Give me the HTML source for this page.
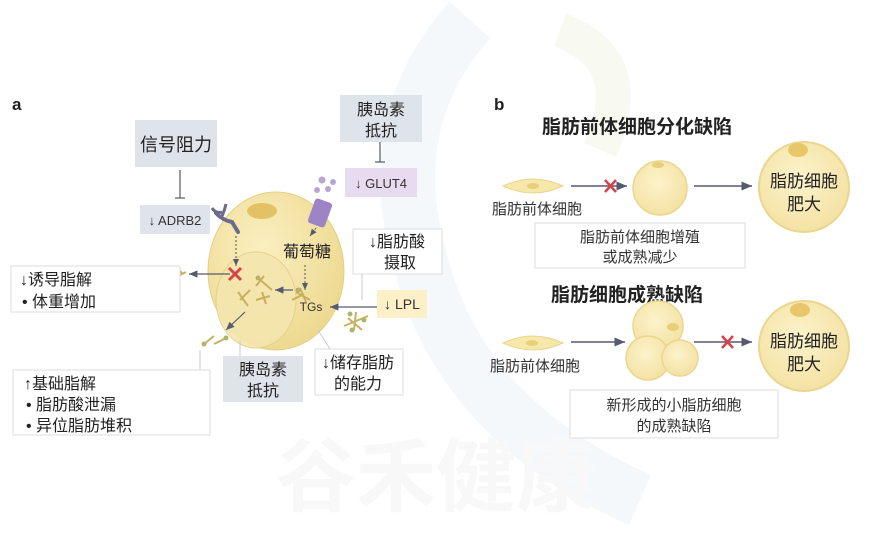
<!DOCTYPE html>
<html><head><meta charset="utf-8"><style>
html,body{margin:0;padding:0;background:#fff;}
svg{display:block;font-family:"Liberation Sans","Noto Sans CJK SC",sans-serif;}
</style></head><body>
<svg width="872" height="540" viewBox="0 0 872 540" xmlns="http://www.w3.org/2000/svg">
<defs>
<radialGradient id="cg" cx="0.4" cy="0.35" r="0.7">
<stop offset="0" stop-color="#fbefc0"/><stop offset="1" stop-color="#ecd88e"/></radialGradient>
<radialGradient id="cg2" cx="0.45" cy="0.4" r="0.65">
<stop offset="0" stop-color="#fdf3cc"/><stop offset="1" stop-color="#f3e1a0"/></radialGradient>
<marker id="ar" markerWidth="8" markerHeight="8" refX="7" refY="4" orient="auto"><path d="M0,1 L7,4 L0,7 z" fill="#555a6e"/></marker>
</defs>
<rect width="872" height="540" fill="#fff"/>
<!-- faint watermark -->
<path d="M470,20 Q380,120 420,260 Q460,420 640,500" fill="none" stroke="#f5f8fb" stroke-width="55"/>
<path d="M560,30 Q640,60 600,150" fill="none" stroke="#f8faf2" stroke-width="35"/>
<text x="436" y="505" font-size="80" fill="#f8f8f8" text-anchor="middle" font-weight="bold">谷禾健康</text>

<!-- Panel a -->
<text x="12" y="110" font-size="17" font-weight="bold" fill="#222">a</text>
<rect x="135" y="120" width="82" height="47" fill="#dfe3ea"/>
<text x="176" y="151" font-size="18" text-anchor="middle" fill="#222">信号阻力</text>
<line x1="180" y1="170" x2="180" y2="198" stroke="#666" stroke-width="1.3"/>
<line x1="175" y1="198" x2="185" y2="198" stroke="#666" stroke-width="1.3"/>
<rect x="140" y="205" width="70" height="29" fill="#dfe3ea"/>
<text x="175" y="225" font-size="13" text-anchor="middle" fill="#333">↓ ADRB2</text>

<rect x="340" y="95" width="82" height="47" fill="#dfe3ea"/>
<text x="381" y="115" font-size="16" text-anchor="middle" fill="#222">胰岛素</text>
<text x="381" y="136" font-size="16" text-anchor="middle" fill="#222">抵抗</text>
<line x1="380" y1="142" x2="380" y2="162" stroke="#666" stroke-width="1.3"/>
<line x1="375" y1="162" x2="385" y2="162" stroke="#666" stroke-width="1.3"/>
<rect x="345" y="168" width="72" height="29" fill="#e7dcef"/>
<text x="381" y="188" font-size="13" text-anchor="middle" fill="#333">↓ GLUT4</text>

<!-- cell -->
<ellipse cx="276" cy="271" rx="68" ry="79" fill="url(#cg)" stroke="#e2cf86"/>
<ellipse cx="256" cy="300" rx="40" ry="48" fill="#f4e6ae" stroke="#e3d088" opacity="0.9"/>
<ellipse cx="262" cy="211" rx="15" ry="8" fill="#e2c264"/>
<path d="M216,213 Q222,220 232,222 L238,232" stroke="#6d6a8a" stroke-width="4" fill="none" stroke-linecap="round"/>
<path d="M212,208 Q216,214 222,212 M226,204 Q224,212 222,216" stroke="#6d6a8a" stroke-width="3" fill="none"/>
<rect x="311" y="200" width="18" height="26" rx="3" fill="#9d84c4" transform="rotate(20 320 213)"/>
<circle cx="322" cy="180" r="3.5" fill="#b7a6d4"/><circle cx="333" cy="182" r="3" fill="#b7a6d4"/><circle cx="328" cy="189" r="3" fill="#b7a6d4"/><circle cx="317" cy="190" r="3" fill="#b7a6d4"/>
<line x1="316" y1="228" x2="310" y2="236" stroke="#555" stroke-dasharray="2,2" marker-end="url(#ar)"/>
<line x1="236" y1="236" x2="236" y2="266" stroke="#555" stroke-dasharray="2,2" marker-end="url(#ar)"/>
<text x="307" y="257" font-size="16" text-anchor="middle" fill="#222">葡萄糖</text>
<line x1="305" y1="265" x2="305" y2="290" stroke="#555" stroke-dasharray="2,2" marker-end="url(#ar)"/>
<text x="311" y="311" font-size="12" text-anchor="middle" fill="#333">TGs</text>
<g stroke="#c8b060" stroke-width="2" fill="none">
<path d="M296,292 L310,300 M300,288 L306,302 M292,300 L304,294"/>
<path d="M258,278 L272,290 M256,286 L264,276"/>
<path d="M240,300 L250,290 M238,292 L248,306 M256,300 L270,296 M262,292 L266,304"/>
<path d="M348,318 L362,330 M356,312 L354,330 M344,326 L368,316"/>
<path d="M204,344 L214,336 M214,344 L226,338"/>
<path d="M178,276 L186,272"/>
</g>
<circle cx="298" cy="290" r="2.5" fill="#b9b06b"/><circle cx="258" cy="278" r="2.5" fill="#b9b06b"/><circle cx="350" cy="314" r="2.5" fill="#a8b86b"/><circle cx="364" cy="320" r="2.5" fill="#a8b86b"/><circle cx="352" cy="330" r="2.5" fill="#a8b86b"/><circle cx="204" cy="344" r="2.5" fill="#b9b06b"/><circle cx="226" cy="338" r="2.5" fill="#a8b86b"/><circle cx="180" cy="273" r="2.5" fill="#b9b06b"/>
<line x1="230" y1="274" x2="189" y2="274" stroke="#555a6e" stroke-width="1.2" marker-end="url(#ar)"/>
<line x1="293" y1="290" x2="275" y2="290" stroke="#555a6e" stroke-width="1.2" marker-end="url(#ar)"/>
<line x1="245" y1="312" x2="226" y2="330" stroke="#555a6e" stroke-width="1.2" marker-end="url(#ar)"/>
<line x1="378" y1="307" x2="330" y2="307" stroke="#555a6e" stroke-width="1.2" marker-end="url(#ar)"/>
<path d="M229,268 L241,280 M241,268 L229,280" stroke="#d8424a" stroke-width="3"/>

<rect x="353" y="229" width="89" height="45" fill="#fff" stroke="#ddd"/>
<text x="397" y="247" font-size="16" text-anchor="middle" fill="#222">↓脂肪酸</text>
<text x="400" y="268" font-size="16" text-anchor="middle" fill="#222">摄取</text>
<line x1="362" y1="274" x2="362" y2="300" stroke="#ccc"/>
<rect x="377" y="290" width="50" height="28" fill="#fbf0c8"/>
<text x="402" y="309" font-size="14" text-anchor="middle" fill="#333">↓ LPL</text>

<rect x="11" y="266" width="169" height="46" fill="#fff" stroke="#ddd"/>
<text x="20" y="285" font-size="16" fill="#222">↓诱导脂解</text>
<text x="22" y="307" font-size="16" fill="#222">• 体重增加</text>

<rect x="223" y="356" width="80" height="46" fill="#dfe3ea"/>
<text x="263" y="375" font-size="16" text-anchor="middle" fill="#222">胰岛素</text>
<text x="263" y="396" font-size="16" text-anchor="middle" fill="#222">抵抗</text>
<line x1="240" y1="340" x2="240" y2="356" stroke="#ccc"/>

<rect x="315" y="349" width="88" height="46" fill="#fff" stroke="#ddd"/>
<text x="358" y="368" font-size="16" text-anchor="middle" fill="#222">↓储存脂肪</text>
<text x="358" y="389" font-size="16" text-anchor="middle" fill="#222">的能力</text>
<line x1="318" y1="330" x2="330" y2="349" stroke="#ccc"/>

<rect x="13" y="370" width="197" height="65" fill="#fff" stroke="#ddd"/>
<text x="24" y="389" font-size="16" fill="#222">↑基础脂解</text>
<text x="26" y="410" font-size="16" fill="#222">• 脂肪酸泄漏</text>
<text x="26" y="431" font-size="16" fill="#222">• 异位脂肪堆积</text>
<line x1="200" y1="350" x2="200" y2="370" stroke="#ccc"/>

<!-- Panel b -->
<text x="494" y="110" font-size="17" font-weight="bold" fill="#222">b</text>
<text x="637" y="133" font-size="19" font-weight="bold" text-anchor="middle" fill="#222">脂肪前体细胞分化缺陷</text>
<path d="M503,186 Q533,172 563,186 Q533,200 503,186 z" fill="#f6e7aa" stroke="#e8d590"/>
<ellipse cx="533" cy="186" rx="6" ry="3" fill="#e8cf7c"/>
<text x="537" y="214" font-size="15" text-anchor="middle" fill="#333">脂肪前体细胞</text>
<line x1="571" y1="186" x2="627" y2="186" stroke="#555a6e" stroke-width="1.5" marker-end="url(#ar)"/>
<path d="M605,180 L616,192 M616,180 L605,192" stroke="#d8424a" stroke-width="2.5"/>
<circle cx="660" cy="188" r="27" fill="url(#cg2)" stroke="#ead68e" stroke-width="1.5"/>
<ellipse cx="658" cy="165" rx="6" ry="3" fill="#e8cf7c"/>
<line x1="694" y1="186" x2="752" y2="186" stroke="#555a6e" stroke-width="1.5" marker-end="url(#ar)"/>
<circle cx="804" cy="187" r="45" fill="url(#cg2)" stroke="#ead68e" stroke-width="2"/>
<ellipse cx="798" cy="150" rx="10" ry="7" fill="#e8c66a"/>
<text x="804" y="187" font-size="17" text-anchor="middle" fill="#222">脂肪细胞</text>
<text x="804" y="210" font-size="17" text-anchor="middle" fill="#222">肥大</text>
<rect x="535" y="223" width="210" height="45" fill="#fff" stroke="#ddd"/>
<text x="640" y="242" font-size="15" text-anchor="middle" fill="#333">脂肪前体细胞增殖</text>
<text x="640" y="262" font-size="15" text-anchor="middle" fill="#333">或成熟减少</text>

<text x="627" y="301" font-size="19" font-weight="bold" text-anchor="middle" fill="#222">脂肪细胞成熟缺陷</text>
<path d="M503,343 Q533,329 563,343 Q533,357 503,343 z" fill="#f6e7aa" stroke="#e8d590"/>
<ellipse cx="532" cy="343" rx="6" ry="3" fill="#e8cf7c"/>
<text x="535" y="371" font-size="15" text-anchor="middle" fill="#333">脂肪前体细胞</text>
<line x1="571" y1="342" x2="625" y2="342" stroke="#555a6e" stroke-width="1.5" marker-end="url(#ar)"/>
<circle cx="658" cy="326" r="25" fill="url(#cg2)" stroke="#ead68e" stroke-width="1.5"/>
<ellipse cx="673" cy="327" rx="6" ry="4" fill="#e8cf7c"/>
<circle cx="648" cy="358" r="22" fill="url(#cg2)" stroke="#ead68e" stroke-width="1.5"/>
<circle cx="680" cy="358" r="18" fill="url(#cg2)" stroke="#ead68e" stroke-width="1.5"/>
<line x1="694" y1="342" x2="752" y2="342" stroke="#555a6e" stroke-width="1.5" marker-end="url(#ar)"/>
<path d="M722,336 L733,348 M733,336 L722,348" stroke="#d8424a" stroke-width="2.5"/>
<circle cx="804" cy="346" r="45" fill="url(#cg2)" stroke="#ead68e" stroke-width="2"/>
<ellipse cx="800" cy="310" rx="10" ry="7" fill="#e8c66a"/>
<text x="804" y="347" font-size="17" text-anchor="middle" fill="#222">脂肪细胞</text>
<text x="804" y="370" font-size="17" text-anchor="middle" fill="#222">肥大</text>
<rect x="570" y="390" width="208" height="48" fill="#fff" stroke="#ddd"/>
<text x="674" y="410" font-size="15" text-anchor="middle" fill="#333">新形成的小脂肪细胞</text>
<text x="674" y="431" font-size="15" text-anchor="middle" fill="#333">的成熟缺陷</text>
</svg>
</body></html>
